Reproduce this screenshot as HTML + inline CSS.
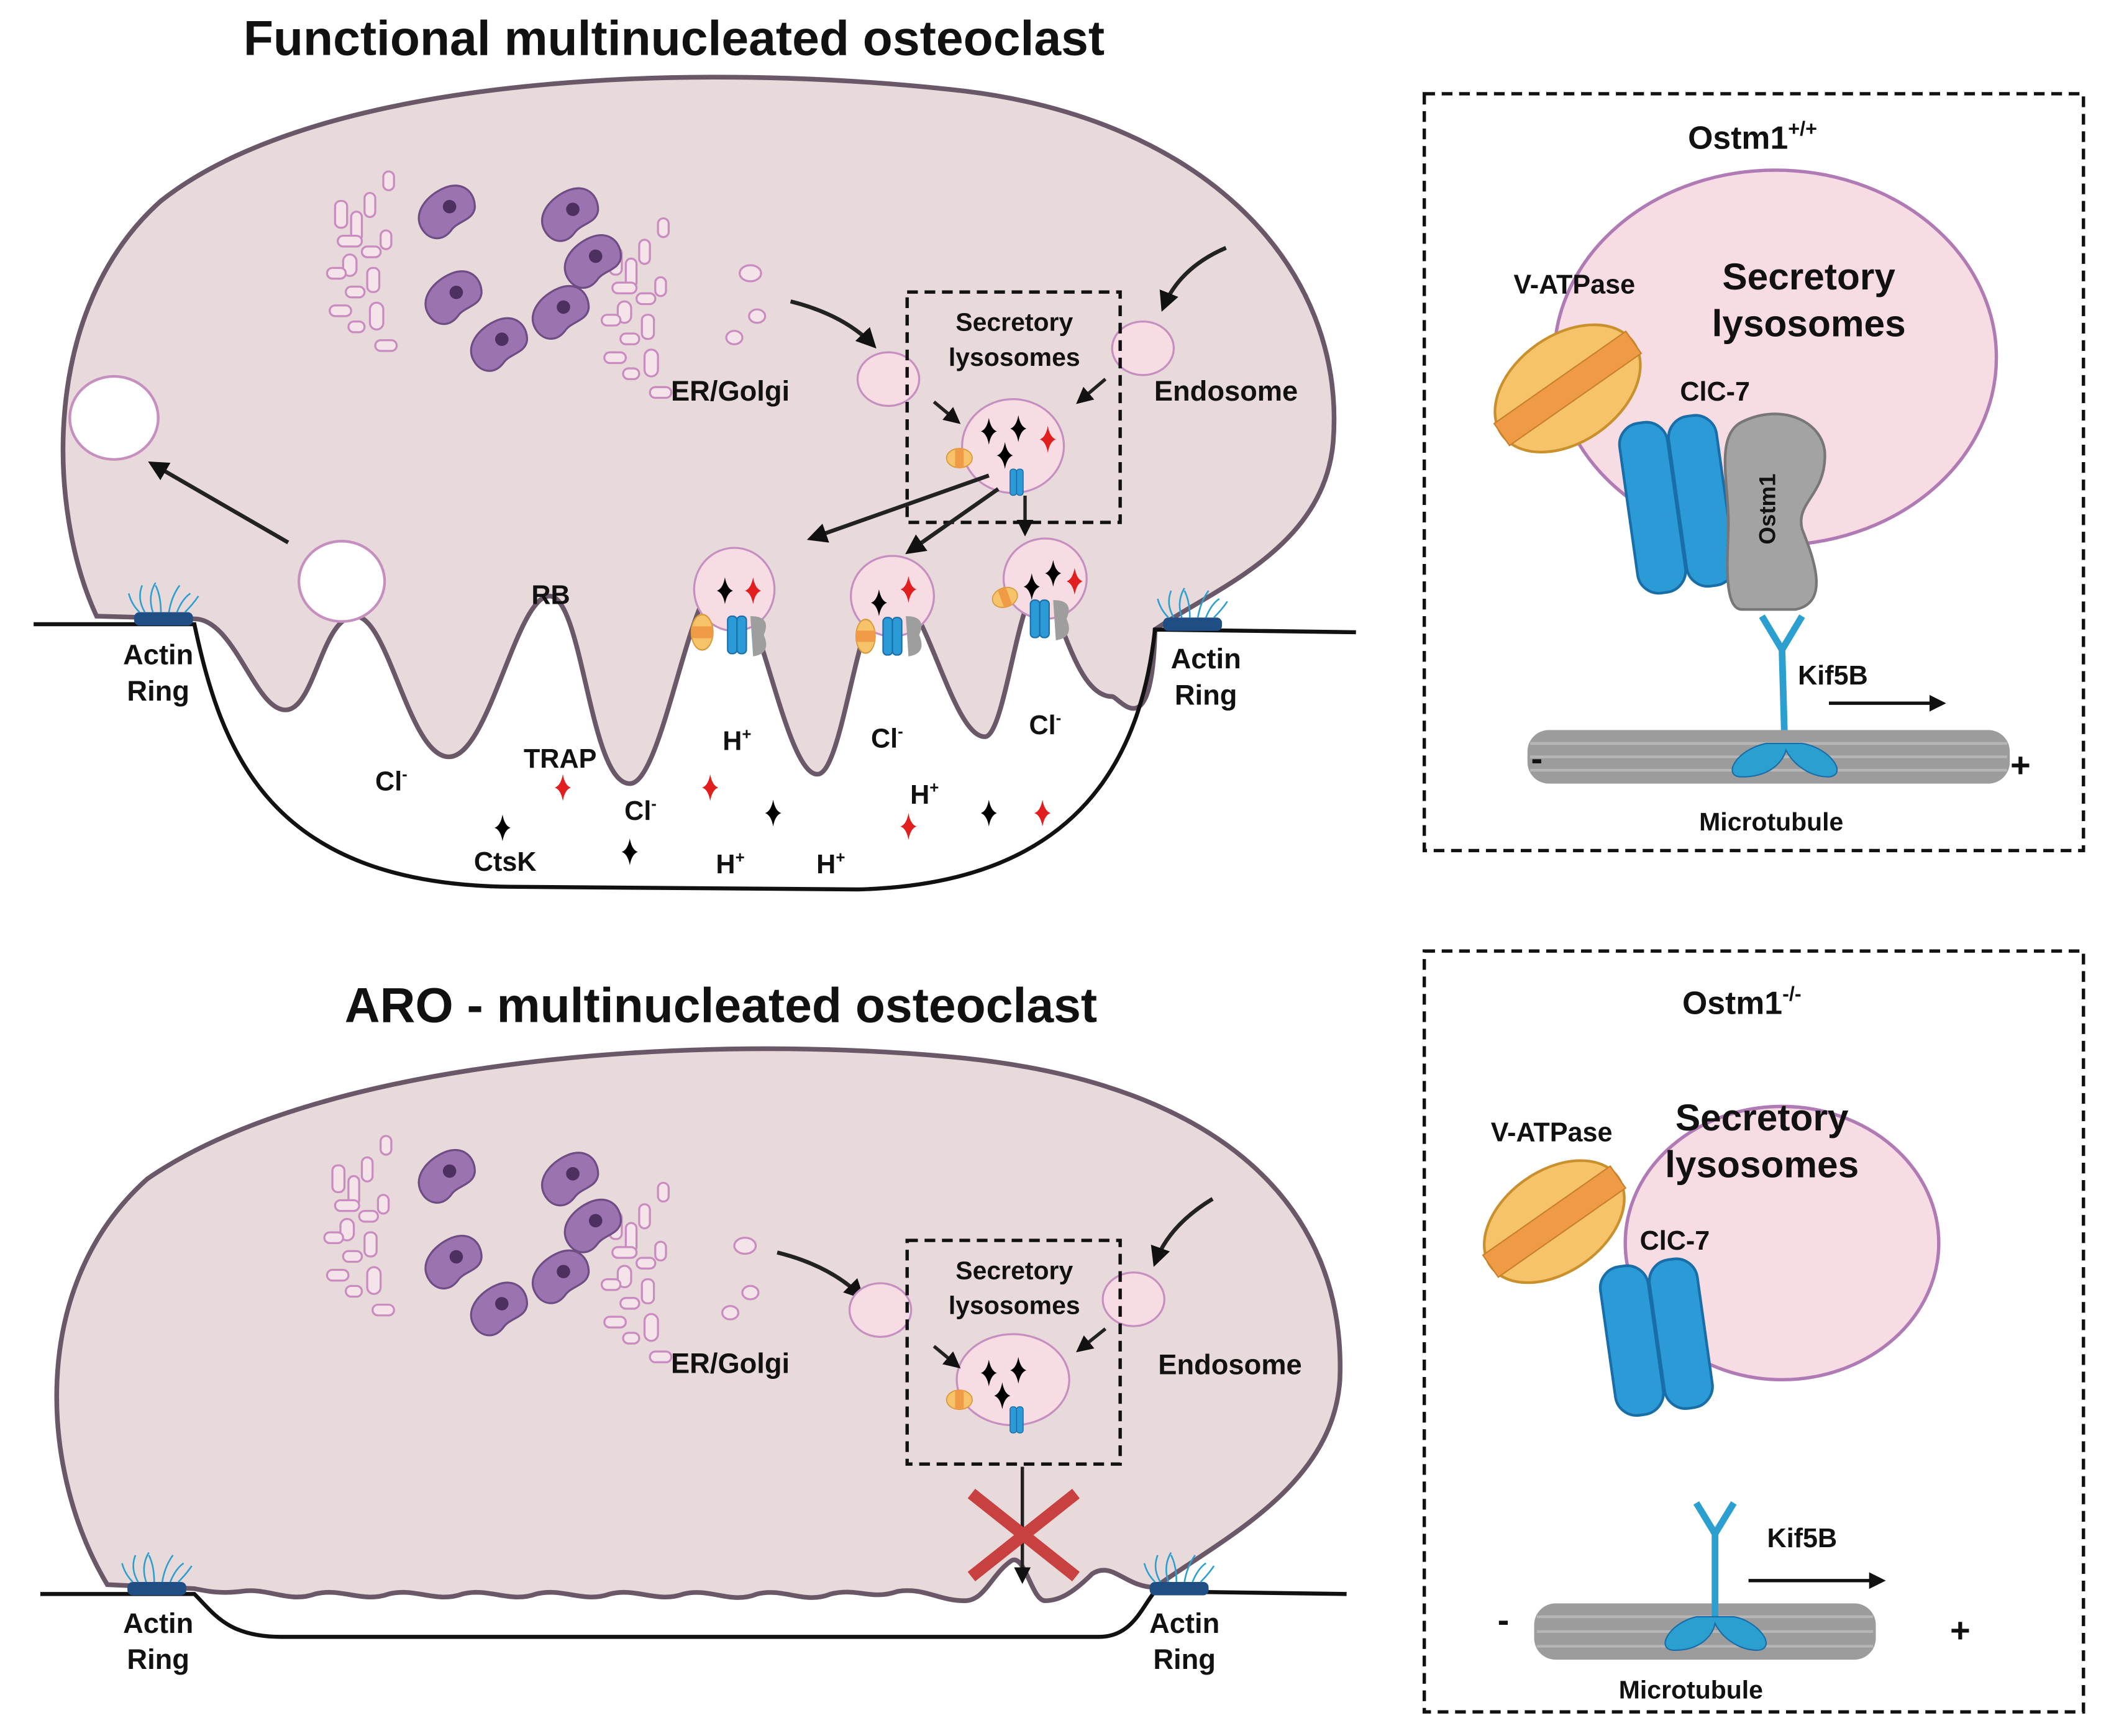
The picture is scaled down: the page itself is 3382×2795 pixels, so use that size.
<!DOCTYPE html>
<html><head><meta charset="utf-8"><style>
html,body{margin:0;padding:0;background:#fff}
svg{display:block}
text{font-family:"Liberation Sans",Arial,sans-serif;font-weight:bold;fill:#111}
</style></head><body>
<svg width="3382" height="2795" viewBox="0 0 1568 1296" xmlns="http://www.w3.org/2000/svg">
<defs>
<marker id="ah" viewBox="0 0 10 10" refX="8" refY="5" markerWidth="5" markerHeight="5" orient="auto"><path d="M0,0 L10,5 L0,10 z" fill="#111"/></marker>
<path id="star" d="M0,-10 Q1.5,-1.5 6,0 Q1.5,1.5 0,10 Q-1.5,1.5 -6,0 Q-1.5,-1.5 0,-10z"/>
<g id="nuc"><path d="M-22,4 C-24,-12 -6,-18 8,-16 C22,-14 26,-2 20,8 C14,16 4,10 -4,14 C-14,18 -21,12 -22,4z" fill="#9a73b0" stroke="#6e4d84" stroke-width="1.5"/><circle cx="4" cy="-2" r="5" fill="#4d3060"/></g>
<g id="barrel"><g><ellipse rx="9" ry="12" fill="#f6c26a" stroke="#d79a3a"/><rect x="-9" y="-4" width="18" height="8" fill="#ef9b45"/></g></g>
<g id="pump"><rect x="-6" y="-14" width="7" height="28" rx="3" fill="#2b9bd8" stroke="#1b6ea8"/><rect x="1" y="-14" width="7" height="28" rx="3" fill="#2b9bd8" stroke="#1b6ea8"/></g>
<g id="golgi" fill="#f5e3ea" stroke="#c98bc0" stroke-width="1.5">
<rect x="0" y="0" width="9" height="20" rx="4"/><rect x="12" y="8" width="8" height="22" rx="4"/><rect x="2" y="26" width="18" height="8" rx="4"/><rect x="22" y="-6" width="8" height="18" rx="4"/><rect x="6" y="40" width="10" height="16" rx="5"/><rect x="20" y="34" width="14" height="8" rx="4"/><rect x="-6" y="50" width="14" height="8" rx="4"/><rect x="24" y="50" width="9" height="18" rx="4"/><rect x="8" y="64" width="14" height="8" rx="4"/><rect x="-4" y="78" width="16" height="8" rx="4"/><rect x="26" y="76" width="10" height="20" rx="5"/><rect x="34" y="22" width="8" height="14" rx="4"/><rect x="10" y="90" width="12" height="8" rx="4"/><rect x="30" y="104" width="16" height="8" rx="4"/><rect x="36" y="-22" width="8" height="14" rx="4"/>
</g>
<g id="actin"><rect x="-22" y="-6" width="44" height="10" rx="4" fill="#1f4e84"/><g stroke="#2a9fd0" stroke-width="1.2" fill="none"><path d="M-14,-6 q-6,-10 -2,-20"/><path d="M-8,-6 q-4,-12 2,-22"/><path d="M-2,-6 q0,-12 -4,-20"/><path d="M4,-6 q2,-12 8,-20"/><path d="M10,-6 q4,-10 10,-14"/><path d="M-18,-6 q-6,-6 -8,-14"/><path d="M16,-6 q6,-6 10,-12"/></g></g>
</defs>

<text x="503" y="41" font-size="36.5" text-anchor="middle">Functional multinucleated osteoclast</text>
<text x="538" y="763" font-size="36.5" text-anchor="middle">ARO - multinucleated osteoclast</text>

<!-- TOP CELL -->
<path d="M72,460 C35,380 30,230 120,150 C240,55 520,45 720,68 C900,90 1005,200 995,330 C988,410 905,440 862,470
C860,560 835,520 830,520 C800,520 790,440 775,440 C760,440 750,550 735,550 C710,550 690,440 665,440 C640,440 630,578 610,578 C585,578 565,430 540,430 C515,430 495,585 470,585 C440,585 435,445 410,445 C385,445 365,565 335,565 C305,565 290,460 265,460 C240,460 235,530 213,530 C190,530 175,462 145,462 L72,460z" fill="#e8d9da" stroke="#6a5868" stroke-width="3.5"/>
<path d="M25,466 L145,466 C165,560 200,660 380,662 L640,664 C810,660 852,560 862,470 L1012,472" fill="none" stroke="#111" stroke-width="3"/>
<use href="#actin" x="122" y="463"/><use href="#actin" x="890" y="467"/>
<text x="118" y="496" font-size="21" text-anchor="middle">Actin</text><text x="118" y="523" font-size="21" text-anchor="middle">Ring</text>
<text x="900" y="499" font-size="21" text-anchor="middle">Actin</text><text x="900" y="526" font-size="21" text-anchor="middle">Ring</text>
<ellipse cx="85" cy="312" rx="33" ry="31" fill="#fff" stroke="#c58fc0" stroke-width="2"/>
<ellipse cx="255" cy="434" rx="32" ry="30" fill="#fff" stroke="#c58fc0" stroke-width="2"/>
<line x1="215" y1="405" x2="113" y2="346" stroke="#222" stroke-width="3" marker-end="url(#ah)"/>
<use href="#golgi" x="250" y="150"/><use href="#golgi" x="455" y="185"/>
<use href="#nuc" transform="translate(333,158) rotate(-30)"/><use href="#nuc" transform="translate(425,160) rotate(-30)"/><use href="#nuc" transform="translate(338,222) rotate(-30)"/><use href="#nuc" transform="translate(442,195) rotate(-30)"/><use href="#nuc" transform="translate(372,257) rotate(-30)"/><use href="#nuc" transform="translate(418,233) rotate(-30)"/>
<g fill="#f5e3ea" stroke="#c98bc0" stroke-width="1.5"><ellipse cx="560" cy="204" rx="8" ry="6"/><ellipse cx="565" cy="236" rx="6" ry="5"/><ellipse cx="548" cy="252" rx="6" ry="5"/></g>
<path d="M590,225 Q630,235 652,258" fill="none" stroke="#222" stroke-width="3" marker-end="url(#ah)"/>
<ellipse cx="663" cy="283" rx="23" ry="20" fill="#f7dce4" stroke="#c58fc0" stroke-width="1.5"/>
<ellipse cx="853" cy="260" rx="23" ry="20" fill="#f7dce4" stroke="#c58fc0" stroke-width="1.5"/>
<path d="M915,185 Q880,200 868,230" fill="none" stroke="#222" stroke-width="3" marker-end="url(#ah)"/>
<text x="545" y="299" font-size="21" text-anchor="middle">ER/Golgi</text>
<text x="915" y="299" font-size="21" text-anchor="middle">Endosome</text>
<rect x="677" y="218" width="159" height="172" fill="none" stroke="#111" stroke-width="2.5" stroke-dasharray="8,5"/>
<text x="757" y="247" font-size="19" text-anchor="middle">Secretory</text><text x="757" y="273" font-size="19" text-anchor="middle">lysosomes</text>
<ellipse cx="756" cy="333" rx="38" ry="35" fill="#f7dce4" stroke="#c58fc0" stroke-width="1.5"/>
<use href="#star" x="738" y="322"/><use href="#star" x="760" y="320"/><use href="#star" x="750" y="340"/><use href="#star" x="782" y="328" fill="#e21f1f"/>
<use href="#barrel" transform="translate(716,342) rotate(90) scale(0.8)"/>
<use href="#pump" transform="translate(758,360) scale(0.7)"/>
<line x1="697" y1="300" x2="715" y2="315" stroke="#222" stroke-width="2.5" marker-end="url(#ah)"/>
<line x1="825" y1="283" x2="805" y2="300" stroke="#222" stroke-width="2.5" marker-end="url(#ah)"/>
<line x1="738" y1="355" x2="605" y2="402" stroke="#222" stroke-width="3" marker-end="url(#ah)"/>
<line x1="745" y1="365" x2="678" y2="412" stroke="#222" stroke-width="3" marker-end="url(#ah)"/>
<line x1="765" y1="370" x2="765" y2="398" stroke="#222" stroke-width="2.5" marker-end="url(#ah)"/>
<g>
<ellipse cx="548" cy="440" rx="30" ry="31" fill="#f7dce4" stroke="#c58fc0" stroke-width="1.5"/>
<use href="#star" x="541" y="441"/><use href="#star" x="562" y="441" fill="#e21f1f"/>
<use href="#barrel" transform="translate(524,472) scale(0.9,1.1)"/><use href="#pump" x="549" y="474"/><path d="M560,460 q16,0 10,14 q6,14 -8,16 z" fill="#9e9e9e"/>
<ellipse cx="666" cy="445" rx="31" ry="30" fill="#f7dce4" stroke="#c58fc0" stroke-width="1.5"/>
<use href="#star" x="656" y="450"/><use href="#star" x="678" y="440" fill="#e21f1f"/>
<use href="#barrel" transform="translate(646,475) scale(0.8,1.05)"/><use href="#pump" x="665" y="475"/><path d="M676,460 q16,0 10,14 q6,14 -8,16 z" fill="#9e9e9e"/>
<ellipse cx="780" cy="432" rx="31" ry="30" fill="#f7dce4" stroke="#c58fc0" stroke-width="1.5"/>
<use href="#star" x="770" y="438"/><use href="#star" x="786" y="428"/><use href="#star" x="802" y="434" fill="#e21f1f"/>
<use href="#barrel" transform="translate(750,446) rotate(70) scale(0.8)"/><use href="#pump" x="775" y="462"/><path d="M786,448 q16,0 10,14 q6,14 -8,16 z" fill="#9e9e9e"/>
</g>
<g font-size="20">
<text x="411" y="451" text-anchor="middle">RB</text>
<text x="292" y="590" text-anchor="middle">Cl<tspan font-size="12" dy="-8">-</tspan></text>
<text x="418" y="573" text-anchor="middle">TRAP</text>
<text x="478" y="612" text-anchor="middle">Cl<tspan font-size="12" dy="-8">-</tspan></text>
<text x="550" y="560" text-anchor="middle">H<tspan font-size="12" dy="-8">+</tspan></text>
<text x="662" y="558" text-anchor="middle">Cl<tspan font-size="12" dy="-8">-</tspan></text>
<text x="780" y="548" text-anchor="middle">Cl<tspan font-size="12" dy="-8">-</tspan></text>
<text x="690" y="600" text-anchor="middle">H<tspan font-size="12" dy="-8">+</tspan></text>
<text x="377" y="650" text-anchor="middle">CtsK</text>
<text x="545" y="652" text-anchor="middle">H<tspan font-size="12" dy="-8">+</tspan></text>
<text x="620" y="652" text-anchor="middle">H<tspan font-size="12" dy="-8">+</tspan></text>
</g>
<use href="#star" x="420" y="588" fill="#e21f1f"/><use href="#star" x="530" y="588" fill="#e21f1f"/><use href="#star" x="678" y="617" fill="#e21f1f"/><use href="#star" x="778" y="607" fill="#e21f1f"/>
<use href="#star" x="375" y="618"/><use href="#star" x="470" y="636"/><use href="#star" x="577" y="607"/><use href="#star" x="738" y="607"/>

<!-- BOTTOM CELL -->
<path d="M80,1183 C30,1100 20,960 110,880 C240,790 520,770 720,790 C910,810 1005,900 1000,1030 C995,1110 910,1150 862,1185
C840,1185 830,1165 815,1175 C800,1190 790,1195 780,1195 C770,1195 765,1160 755,1165 C740,1175 735,1195 720,1195 C700,1195 690,1185 670,1188 C650,1195 640,1185 620,1190 C600,1198 585,1185 565,1190 C545,1198 530,1185 510,1190 C490,1197 475,1185 455,1190 C435,1197 420,1185 400,1190 C380,1197 365,1185 345,1190 C325,1197 310,1185 290,1190 C270,1197 255,1185 235,1190 C215,1197 200,1185 180,1188 C165,1190 155,1188 145,1186 Z" fill="#e8d9da" stroke="#6a5868" stroke-width="3.5"/>
<path d="M30,1190 L145,1190 C160,1205 170,1222 210,1222 L820,1222 C845,1222 852,1200 862,1188 L1005,1190" fill="none" stroke="#111" stroke-width="3"/>
<use href="#actin" x="117" y="1187"/><use href="#actin" x="880" y="1187"/>
<text x="118" y="1219" font-size="21" text-anchor="middle">Actin</text><text x="118" y="1246" font-size="21" text-anchor="middle">Ring</text>
<text x="884" y="1219" font-size="21" text-anchor="middle">Actin</text><text x="884" y="1246" font-size="21" text-anchor="middle">Ring</text>
<use href="#golgi" x="248" y="870"/><use href="#golgi" x="455" y="905"/>
<use href="#nuc" transform="translate(333,878) rotate(-30)"/><use href="#nuc" transform="translate(425,880) rotate(-30)"/><use href="#nuc" transform="translate(338,942) rotate(-30)"/><use href="#nuc" transform="translate(442,915) rotate(-30)"/><use href="#nuc" transform="translate(372,977) rotate(-30)"/><use href="#nuc" transform="translate(418,953) rotate(-30)"/>
<g fill="#f5e3ea" stroke="#c98bc0" stroke-width="1.5"><ellipse cx="556" cy="930" rx="8" ry="6"/><ellipse cx="560" cy="965" rx="6" ry="5"/><ellipse cx="545" cy="980" rx="6" ry="5"/></g>
<path d="M580,935 Q620,945 643,968" fill="none" stroke="#222" stroke-width="3" marker-end="url(#ah)"/>
<ellipse cx="657" cy="978" rx="23" ry="20" fill="#f7dce4" stroke="#c58fc0" stroke-width="1.5"/>
<ellipse cx="846" cy="970" rx="23" ry="20" fill="#f7dce4" stroke="#c58fc0" stroke-width="1.5"/>
<path d="M905,895 Q872,915 862,943" fill="none" stroke="#222" stroke-width="3" marker-end="url(#ah)"/>
<text x="545" y="1025" font-size="21" text-anchor="middle">ER/Golgi</text>
<text x="918" y="1026" font-size="21" text-anchor="middle">Endosome</text>
<rect x="677" y="926" width="159" height="167" fill="none" stroke="#111" stroke-width="2.5" stroke-dasharray="8,5"/>
<text x="757" y="955" font-size="19" text-anchor="middle">Secretory</text><text x="757" y="981" font-size="19" text-anchor="middle">lysosomes</text>
<ellipse cx="756" cy="1030" rx="42" ry="34" fill="#f7dce4" stroke="#c58fc0" stroke-width="1.5"/>
<use href="#star" x="738" y="1025"/><use href="#star" x="760" y="1023"/><use href="#star" x="748" y="1042"/>
<use href="#barrel" transform="translate(716,1045) rotate(90) scale(0.8)"/>
<use href="#pump" transform="translate(758,1060) scale(0.7)"/>
<line x1="697" y1="1005" x2="715" y2="1020" stroke="#222" stroke-width="2.5" marker-end="url(#ah)"/>
<line x1="825" y1="992" x2="805" y2="1008" stroke="#222" stroke-width="2.5" marker-end="url(#ah)"/>
<line x1="763" y1="1095" x2="763" y2="1180" stroke="#222" stroke-width="2.5" marker-end="url(#ah)"/>
<g stroke="#c8403f" stroke-width="9" stroke-linecap="butt"><line x1="725" y1="1115" x2="803" y2="1177"/><line x1="803" y1="1115" x2="725" y2="1177"/></g>

<!-- PANEL 1 -->
<rect x="1063" y="70" width="492" height="565" fill="none" stroke="#111" stroke-width="2.5" stroke-dasharray="8,5"/>
<text x="1308" y="111" font-size="24" text-anchor="middle">Ostm1<tspan font-size="15" dy="-10">+/+</tspan></text>
<ellipse cx="1325" cy="267" rx="165" ry="140" fill="#f7dce4" stroke="#b07ab5" stroke-width="2.5"/>
<text x="1350" y="216" font-size="28" text-anchor="middle">Secretory</text>
<text x="1350" y="251" font-size="28" text-anchor="middle">lysosomes</text>
<text x="1175" y="219" font-size="20" text-anchor="middle">V-ATPase</text>
<g transform="translate(1170,290) rotate(-35)"><ellipse rx="60" ry="40" fill="#f6c26a" stroke="#c9902c" stroke-width="2"/><rect x="-60" y="-10" width="120" height="20" fill="#ef9b45" stroke="#c9802c"/></g>
<text x="1280" y="299" font-size="20" text-anchor="middle">ClC-7</text>
<g transform="rotate(-8 1255 375)" fill="#2b9bd8" stroke="#1a6ea8" stroke-width="2"><rect x="1215" y="312" width="36" height="128" rx="16"/><rect x="1252" y="312" width="36" height="128" rx="16"/></g>
<path d="M1300,315 C1330,300 1362,315 1362,340 C1362,370 1340,375 1345,395 C1355,420 1365,450 1340,455 L1300,455 C1285,455 1290,410 1290,390 C1290,360 1280,325 1300,315z" fill="#a3a3a3" stroke="#777" stroke-width="2"/>
<text x="1325" y="380" font-size="17" text-anchor="middle" transform="rotate(-90 1325 380)">Ostm1</text>
<g fill="none" stroke="#2a9fd0" stroke-width="5"><path d="M1315,460 L1330,485 L1345,460"/><path d="M1330,485 L1332,555"/></g>
<text x="1368" y="511" font-size="20" text-anchor="middle">Kif5B</text>
<line x1="1365" y1="525" x2="1450" y2="525" stroke="#111" stroke-width="2.5" marker-end="url(#ah)"/>
<rect x="1140" y="545" width="360" height="40" rx="16" fill="#9c9c9c"/>
<g stroke="#bdbdbd" stroke-width="2" opacity="0.8"><line x1="1142" y1="555" x2="1498" y2="555"/><line x1="1142" y1="565" x2="1498" y2="565"/><line x1="1142" y1="575" x2="1498" y2="575"/></g>
<path d="M1318,555 C1295,560 1285,580 1300,580 C1320,580 1330,570 1333,560 C1338,570 1350,580 1365,580 C1380,578 1365,558 1345,555z" fill="#2a9fd0" stroke="#1a6ea8"/>
<text x="1147" y="575" font-size="26" text-anchor="middle">-</text>
<text x="1508" y="580" font-size="26" text-anchor="middle">+</text>
<text x="1322" y="620" font-size="19" text-anchor="middle">Microtubule</text>

<!-- PANEL 2 -->
<rect x="1063" y="710" width="492" height="568" fill="none" stroke="#111" stroke-width="2.5" stroke-dasharray="8,5"/>
<text x="1300" y="757" font-size="24" text-anchor="middle">Ostm1<tspan font-size="15" dy="-10">-/-</tspan></text>
<ellipse cx="1330" cy="928" rx="117" ry="102" fill="#f7dce4" stroke="#b07ab5" stroke-width="2.5"/>
<text x="1315" y="844" font-size="28" text-anchor="middle">Secretory</text>
<text x="1315" y="879" font-size="28" text-anchor="middle">lysosomes</text>
<text x="1158" y="852" font-size="20" text-anchor="middle">V-ATPase</text>
<g transform="translate(1160,912) rotate(-35)"><ellipse rx="58" ry="38" fill="#f6c26a" stroke="#c9902c" stroke-width="2"/><rect x="-58" y="-10" width="116" height="20" fill="#ef9b45" stroke="#c9802c"/></g>
<text x="1250" y="933" font-size="20" text-anchor="middle">ClC-7</text>
<g transform="rotate(-8 1238 1000)" fill="#2b9bd8" stroke="#1a6ea8" stroke-width="2"><rect x="1200" y="942" width="36" height="112" rx="16"/><rect x="1237" y="942" width="36" height="112" rx="16"/></g>
<text x="1345" y="1155" font-size="20" text-anchor="middle">Kif5B</text>
<line x1="1305" y1="1180" x2="1405" y2="1180" stroke="#111" stroke-width="2.5" marker-end="url(#ah)"/>
<rect x="1145" y="1197" width="255" height="42" rx="16" fill="#9c9c9c"/>
<g stroke="#bdbdbd" stroke-width="2" opacity="0.8"><line x1="1147" y1="1207" x2="1398" y2="1207"/><line x1="1147" y1="1218" x2="1398" y2="1218"/><line x1="1147" y1="1229" x2="1398" y2="1229"/></g>
<g fill="none" stroke="#2a9fd0" stroke-width="5"><path d="M1266,1122 L1280,1145 L1294,1122"/><path d="M1280,1145 L1280,1208"/></g>
<path d="M1266,1207 C1245,1212 1235,1232 1250,1232 C1268,1232 1278,1222 1280,1212 C1285,1222 1297,1232 1312,1232 C1327,1230 1312,1210 1294,1207z" fill="#2a9fd0" stroke="#1a6ea8"/>
<text x="1122" y="1218" font-size="26" text-anchor="middle">-</text>
<text x="1463" y="1226" font-size="26" text-anchor="middle">+</text>
<text x="1262" y="1268" font-size="19" text-anchor="middle">Microtubule</text>
</svg>
</body></html>
